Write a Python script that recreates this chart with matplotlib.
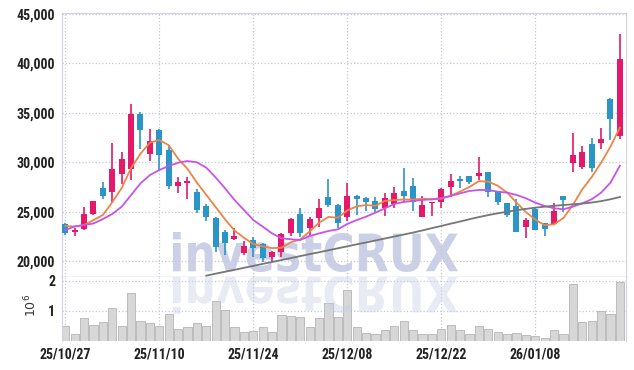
import matplotlib
matplotlib.use("Agg")
import numpy as np
import matplotlib.pyplot as plt
import matplotlib.font_manager as fm
from matplotlib.textpath import TextPath
from matplotlib.patches import PathPatch
from matplotlib.font_manager import FontProperties
from matplotlib.transforms import Affine2D

dates = ['25/10/27', '25/11/10', '25/11/24', '25/12/08', '25/12/22', '26/01/08']
date_pos = [0, 10, 20, 30, 40, 50]

opens = [23720, 22910, 23280, 24800, 27360, 27020, 28780, 29280, 34880, 30870,
         33260, 31240, 27630, 27930, 27020, 25570, 24320, 22980, 22270, 20780,
         22130, 21690, 20450, 20880, 22810, 24730, 23380, 24320, 26450, 25670,
         24490, 26550, 26350, 26080, 25340, 25810, 27060, 27600, 24490, 25840,
         26010, 27530, 28270, 28610, 28640, 28980, 27120, 25840, 25570, 23480,
         25240, 23820, 23750, 26550, 29960, 29550, 31850, 31980, 36400, 32690]
highs = [23890, 23310, 25440, 26100, 28030, 31910, 31000, 35860, 35120, 33330,
         33330, 31740, 28470, 28470, 27260, 25770, 24490, 23140, 23380, 22060,
         22400, 21860, 21050, 22810, 24320, 25340, 24490, 26250, 28270, 25770,
         27870, 26650, 26520, 26450, 26920, 27530, 29380, 28440, 26580, 26010,
         27360, 28780, 28640, 28610, 30500, 28980, 27120, 25910, 26250, 24320,
         25340, 23890, 25840, 26550, 32930, 31640, 32420, 33430, 36470, 42940]
lows = [22640, 22540, 23140, 24700, 26250, 25910, 27800, 28200, 31310, 30130,
        29220, 27260, 26850, 26250, 24900, 24090, 20950, 20610, 22130, 20580,
        20380, 19940, 19940, 20380, 22540, 22400, 22640, 23480, 25510, 23380,
        24090, 24660, 25100, 24830, 24560, 25340, 26010, 25100, 24490, 24560,
        25340, 26520, 27360, 27800, 28200, 26520, 25670, 24420, 22970, 22300,
        23140, 22570, 23750, 25000, 28980, 29320, 29050, 31340, 32250, 32320]
closes = [22810, 23140, 24730, 26040, 26580, 29280, 30290, 34880, 33260, 32150,
          30700, 27630, 28030, 28140, 25170, 24490, 21460, 21790, 22540, 21520,
          21290, 20280, 20920, 22740, 24260, 22810, 24260, 25340, 25670, 23820,
          26550, 26280, 26010, 25270, 26380, 26890, 26580, 26010, 25670, 26010,
          27260, 28070, 28140, 28030, 28910, 27020, 26010, 24660, 22970, 24160,
          23140, 23250, 25070, 26180, 30770, 31040, 29450, 32320, 34340, 40410]

ma_short = [23550, 23480, 23650, 24150, 24660, 25956, 27386, 29417, 30861, 31974,
            32257, 31724, 30355, 29329, 27933, 26692, 25457, 24209, 23089, 22361,
            21720, 21484, 21308, 21349, 21895, 22199, 22995, 23879, 24466, 24378,
            25127, 25531, 25666, 25585, 26098, 26165, 26226, 26226, 26307, 26233,
            26307, 26604, 27029, 27501, 28081, 28034, 27622, 26928, 25916, 24964,
            24189, 23636, 23717, 24358, 25680, 27258, 28500, 29950, 31582, 33512]
ma_mid = [23143, 23500, 23650, 23800, 24250, 24760, 25500, 26680, 27860, 28700,
          29210, 29620, 29950, 30120, 29990, 29450, 28450, 27360, 26180, 25170,
          24150, 23480, 22800, 22300, 22200, 22130, 22530, 22800, 23040, 23210,
          23750, 24150, 24490, 24900, 25340, 25770, 25980, 26080, 26180, 26250,
          26380, 26580, 26850, 27090, 27190, 27190, 27020, 26920, 26690, 26350,
          25910, 25570, 25340, 25240, 25500, 25840, 26250, 26920, 27930, 29650]
ma_long_start = 15
ma_long = [18520, 18720, 18920, 19110, 19310, 19510, 19710, 19900, 20100, 20300,
           20500, 20700, 20890, 21090, 21290, 21490, 21690, 21880, 22080, 22280,
           22480, 22680, 22880, 23100, 23330, 23550, 23780, 24000, 24230, 24450,
           24650, 24830, 24990, 25140, 25280, 25400, 25500, 25590, 25670, 25740,
           25820, 25920, 26060, 26250, 26480]

volume_m = [0.51, 0.24, 0.77, 0.54, 0.64, 1.10, 0.51, 1.60, 0.68, 0.61,
            0.51, 0.91, 0.41, 0.48, 0.61, 0.51, 1.34, 1.04, 0.48, 0.31,
            0.34, 0.48, 0.31, 0.88, 0.84, 0.81, 0.48, 0.77, 1.27, 0.80,
            1.71, 0.48, 0.28, 0.24, 0.38, 0.50, 0.67, 0.38, 0.24, 0.24,
            0.40, 0.54, 0.38, 0.24, 0.50, 0.40, 0.31, 0.24, 0.28, 0.21,
            0.18, 0.11, 0.38, 0.24, 1.90, 0.64, 0.68, 1.01, 0.91, 1.98]


# pick a condensed bold face for the tick labels if one is installed
def pick_condensed():
    prefs = ['Roboto Condensed', 'Liberation Sans Narrow', 'Noto Sans', 'Open Sans',
             'DejaVu Sans', 'Roboto']
    found = []
    for f in fm.fontManager.ttflist:
        narrow = (f.stretch in ('condensed', 'semi-condensed', 'extra-condensed')
                  or 'Narrow' in f.name or 'Condensed' in f.name
                  or 'Condensed' in f.fname or 'Narrow' in f.fname)
        if not narrow:
            continue
        w = f.weight if isinstance(f.weight, int) else {'bold': 700, 'semibold': 600,
                                                          'demibold': 600, 'normal': 400,
                                                          'medium': 500}.get(f.weight, 400)
        if w < 600 or 'Italic' in f.fname or f.style != 'normal':
            continue
        rank = prefs.index(f.name) if f.name in prefs else len(prefs)
        found.append((rank, abs(w - 700), f.fname))
    if found:
        found.sort()
        return FontProperties(fname=found[0][2], size=10)
    return FontProperties(family='Liberation Sans', weight='bold', size=8.5)


tick_font = pick_condensed()

W, H = 634, 370
fig = plt.figure(figsize=(W / 100, H / 100), dpi=100)
ax = fig.add_axes([62 / W, (H - 277) / H, 564 / W, 264 / H])
axv = fig.add_axes([62 / W, (H - 341) / H, 564 / W, 64 / H], sharex=ax)

x = np.arange(len(closes))
o = np.array(opens)
c = np.array(closes)
up = c >= o
col = np.where(up, '#e3196a', '#2b95c8')

grid_c = '#c4c7d8'
edge_c = '#d2d3dc'

# candles
ax.vlines(x, lows, highs, colors=col, linewidth=1.2, zorder=3)
ax.bar(x, np.abs(c - o), bottom=np.minimum(c, o), width=0.64, color=col, zorder=4)

# moving averages
ax.plot(x, ma_short, color='#ee8446', linewidth=1.3, zorder=5)
ax.plot(x, ma_mid, color='#c654ea', linewidth=1.3, zorder=5)
ax.plot(x[ma_long_start:], ma_long, color='#767676', linewidth=1.3, zorder=5)

ax.set_xlim(-0.35, 59.65)
ax.set_ylim(18384, 45101)
yt = [20000, 25000, 30000, 35000, 40000, 45000]
ax.set_yticks(yt)
ax.set_yticklabels([f'{v:,}' for v in yt], fontproperties=tick_font)
ax.set_axisbelow(True)
ax.grid(True, color=grid_c, linestyle=':', linewidth=0.9)
ax.tick_params(axis='both', length=0, pad=5, colors='#222222')
ax.tick_params(axis='x', labelbottom=False)
for s in ['top', 'left', 'right']:
    ax.spines[s].set_color(edge_c)
    ax.spines[s].set_linewidth(0.8)
ax.spines['bottom'].set_color('#c8c8cc')
ax.spines['bottom'].set_linewidth(1.0)

# volume
axv.bar(x, volume_m, width=0.88, color='#d7d7d7', edgecolor='#b5b5b5', linewidth=0.6, zorder=2)
axv.set_ylim(0, 2.133)
axv.set_yticks([1, 2])
axv.set_yticklabels(['1', '2'], fontproperties=tick_font)
axv.set_xticks(date_pos)
axv.set_xticklabels(dates, fontproperties=tick_font)
axv.set_axisbelow(True)
axv.grid(True, color=grid_c, linestyle=':', linewidth=0.9)
axv.tick_params(axis='both', length=0, pad=5, colors='#222222')
for s in ['left', 'right']:
    axv.spines[s].set_color(edge_c)
    axv.spines[s].set_linewidth(0.8)
axv.spines['top'].set_visible(False)
axv.spines['bottom'].set_visible(False)
fig.text(31 / W, 1 - 305 / H, r'$10^6$', rotation=90, ha='center', va='center',
         fontsize=9, color='#333333')

# watermark and its reflection
tp = TextPath((0, 0), 'investCRUX', size=1,
              prop=FontProperties(family='DejaVu Sans', weight='bold'))
ext = tp.get_extents()
x0, x1 = 173 / W, 458 / W
top, base = 1 - 232 / H, 1 - 272 / H
sx = (x1 - x0) / ext.width
sy = (top - base) / ext.height
main_tr = Affine2D().translate(-ext.x0, -ext.y0).scale(sx, sy).translate(x0, base)
ax.add_patch(PathPatch(tp, transform=main_tr + fig.transFigure, facecolor='#cbd0e6',
                       edgecolor='none', zorder=0.2))
ref_base = 1 - 275 / H
ref_tr = Affine2D().translate(-ext.x0, -ext.y0).scale(sx, -sy * 0.97).translate(x0, ref_base)
axv.add_patch(PathPatch(tp, transform=ref_tr + fig.transFigure, facecolor='#c9cee5',
                        edgecolor='none', alpha=0.4, zorder=3))

fig.savefig('out.png', dpi=100)
